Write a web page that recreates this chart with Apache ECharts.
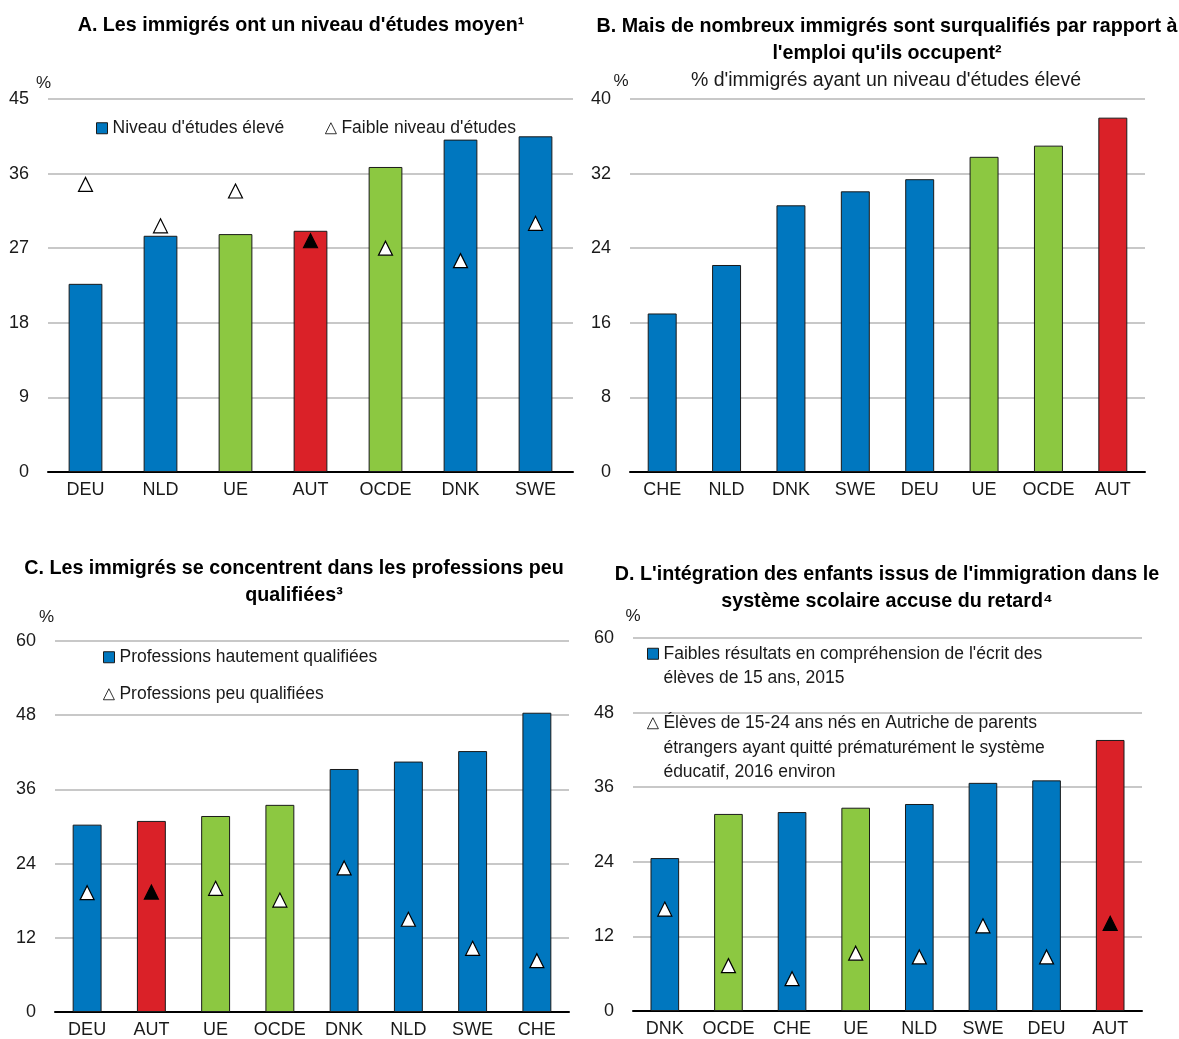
<!DOCTYPE html>
<html>
<head>
<meta charset="utf-8">
<script src="https://cdn.jsdelivr.net/npm/echarts@6/dist/echarts.min.js"></script>
<style>
  html, body { margin: 0; padding: 0; background: #fff; }
  #chart { width: 1179px; height: 1039px; }
</style>
</head>
<body>
<div id="chart"></div>
<script>
// A. niveau d'études des immigrés
const catsA = ["DEU", "NLD", "UE", "AUT", "OCDE", "DNK", "SWE"];
const highEduA = [22.7, 28.5, 28.7, 29.1, 36.8, 40.1, 40.5];
const lowEduA = [34.7, 29.7, 33.9, 27.9, 27.0, 25.5, 30.0];

// B. surqualification
const catsB = ["CHE", "NLD", "DNK", "SWE", "DEU", "UE", "OCDE", "AUT"];
const overQualB = [17.0, 22.2, 28.6, 30.1, 31.4, 33.8, 35.0, 38.0];

// C. professions
const catsC = ["DEU", "AUT", "UE", "OCDE", "DNK", "NLD", "SWE", "CHE"];
const highSkillC = [30.3, 30.9, 31.7, 33.5, 39.3, 40.5, 42.2, 48.4];
const lowSkillC = [19.3, 19.4, 20.0, 18.1, 23.3, 15.0, 10.3, 8.3];

// D. enfants issus de l'immigration
const catsD = ["DNK", "OCDE", "CHE", "UE", "NLD", "SWE", "DEU", "AUT"];
const lowReadD = [24.6, 31.7, 32.0, 32.7, 33.3, 36.7, 37.1, 43.6];
const earlyLeaveD = [16.4, 7.3, 5.2, 9.3, 8.7, 13.7, 8.7, 14.1];

// y axes: max and step per panel (A, B, C, D)
const yMax = [45, 40, 60, 60];
const yStep = [9, 8, 12, 12];

const FONT = "'Liberation Sans', Arial, sans-serif";
const BLUE = "#0077BF", GREEN = "#8CC841", RED = "#DA2128";
const TXT = "#1a1a1a";

const nameD1 = "Faibles résultats en compréhension de l'écrit des\nélèves de 15 ans, 2015";
const nameD2 = "Élèves de 15-24 ans nés en Autriche de parents\nétrangers ayant quitté prématurément le système\néducatif, 2016 environ";

function barColor(c) {
  if (c === "AUT") return RED;
  if (c === "UE" || c === "OCDE") return GREEN;
  return BLUE;
}

function barSeries(idx, name, cats, vals) {
  return {
    name: name,
    type: "bar",
    xAxisIndex: idx,
    yAxisIndex: idx,
    barWidth: "45%",
    itemStyle: { color: BLUE, borderColor: "#1a1a1a", borderWidth: 1 },
    data: vals.map((v, i) => ({ value: v, itemStyle: { color: barColor(cats[i]) } }))
  };
}

function triSeries(idx, name, cats, vals) {
  return {
    name: name,
    type: "scatter",
    xAxisIndex: idx,
    yAxisIndex: idx,
    symbol: "triangle",
    symbolSize: 14,
    z: 5,
    itemStyle: { color: "#fff", borderColor: "#000", borderWidth: 1.2, opacity: 1 },
    data: vals.map((v, i) => cats[i] === "AUT"
      ? { value: v, itemStyle: { color: "#000" } }
      : v)
  };
}

const pctPad = [[0, 9, 0, 0], [0, 18, 0, 0], [0, 17, 0, 0], [0, 0, 0, 0]];
const pctGap = [7, 7, 15, 13];

function xAx(idx, cats) {
  return {
    type: "category",
    gridIndex: idx,
    data: cats,
    axisTick: { show: false },
    axisLine: { lineStyle: { color: "#000", width: 2 } },
    axisLabel: { color: TXT, fontSize: 18, fontFamily: FONT, margin: 9, interval: 0 }
  };
}

function yAx(idx) {
  return {
    type: "value",
    gridIndex: idx,
    min: 0,
    max: yMax[idx],
    interval: yStep[idx],
    name: "%",
    nameLocation: "end",
    nameGap: pctGap[idx],
    nameTextStyle: { color: TXT, fontSize: 17, fontFamily: FONT, align: "center", padding: pctPad[idx] },
    axisLine: { show: false },
    axisTick: { show: false },
    axisLabel: { color: TXT, fontSize: 18, fontFamily: FONT, margin: 19 },
    splitLine: { lineStyle: { color: "#c8c8c8", width: 2 } }
  };
}

const titleStyle = { color: "#000", fontSize: 19.7, fontWeight: "bold", fontFamily: FONT, lineHeight: 27 };
const legText = { color: TXT, fontSize: 17.5, fontFamily: FONT, lineHeight: 24.5 };

function leg(name, left, top, icon, fmt) {
  return {
    data: [{ name: name, icon: icon }],
    left: left, top: top, padding: 0,
    itemWidth: 11, itemHeight: 11,
    itemStyle: { borderWidth: icon === "triangle" ? 0.8 : 1 },
    textStyle: legText,
    formatter: fmt || "{name}"
  };
}

// multi-line legend text: blank lines in front keep the icon level with the first line
const padTop = n => (name => "\n".repeat(n) + name);

const myChart = echarts.init(document.getElementById("chart"), null, { renderer: "canvas" });
myChart.setOption({
  backgroundColor: "#fff",
  animation: false,
  title: [
    { text: "A. Les immigrés ont un niveau d'études moyen¹", left: 301, top: 12, textAlign: "center", padding: 0, textStyle: titleStyle },
    { text: "B. Mais de nombreux immigrés sont surqualifiés par rapport à\nl'emploi qu'ils occupent²", left: 887, top: 13, textAlign: "center", padding: 0, textStyle: titleStyle },
    { text: "% d'immigrés ayant un niveau d'études élevé", left: 886, top: 70, textAlign: "center", padding: 0,
      textStyle: { color: TXT, fontSize: 19.5, fontWeight: "normal", fontFamily: FONT, lineHeight: 22 } },
    { text: "C. Les immigrés se concentrent dans les professions peu\nqualifiées³", left: 294, top: 555, textAlign: "center", padding: 0, textStyle: titleStyle },
    { text: "D. L'intégration des enfants issus de l'immigration dans le\nsystème scolaire accuse du retard⁴", left: 887, top: 561, textAlign: "center", padding: 0, textStyle: titleStyle }
  ],
  legend: [
    leg("Niveau d'études élevé", 96, 116, "rect"),
    leg("Faible niveau d'études", 325, 116, "triangle"),
    leg("Professions hautement qualifiées", 103, 645, "rect"),
    leg("Professions peu qualifiées", 103, 682, "triangle"),
    leg(nameD1, 647, 617, "rect", padTop(1)),
    leg(nameD2, 647, 662, "triangle", padTop(2))
  ],
  grid: [
    { left: 48, top: 99, width: 525, height: 373 },
    { left: 630, top: 99, width: 515, height: 373 },
    { left: 55, top: 641, width: 514, height: 372 },
    { left: 633, top: 638, width: 509, height: 373 }
  ],
  xAxis: [xAx(0, catsA), xAx(1, catsB), xAx(2, catsC), xAx(3, catsD)],
  yAxis: [yAx(0), yAx(1), yAx(2), yAx(3)],
  series: [
    barSeries(0, "Niveau d'études élevé", catsA, highEduA),
    triSeries(0, "Faible niveau d'études", catsA, lowEduA),
    barSeries(1, "% d'immigrés ayant un niveau d'études élevé", catsB, overQualB),
    barSeries(2, "Professions hautement qualifiées", catsC, highSkillC),
    triSeries(2, "Professions peu qualifiées", catsC, lowSkillC),
    barSeries(3, nameD1, catsD, lowReadD),
    triSeries(3, nameD2, catsD, earlyLeaveD)
  ]
});
</script>
</body>
</html>
